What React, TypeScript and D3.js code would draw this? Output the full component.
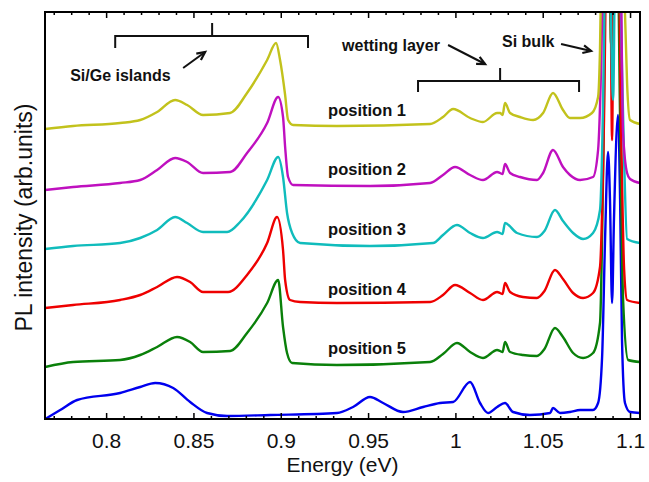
import { useEffect, useRef } from "react";
import * as d3 from "d3";

// energy (eV) / PL intensity (arb. units, curves already stacked)
const position1 = [
  [0.7651, 2.9], [0.7811, 2.93], [0.808, 2.96], [0.8195, 2.99], [0.8292, 3.07],
  [0.8395, 3.19], [0.8464, 3.14], [0.8555, 3.04], [0.871, 3.06], [0.8807, 3.26],
  [0.8922, 3.59], [0.8973, 3.76], [0.8996, 3.59], [0.9025, 3.24], [0.9042, 2.99],
  [0.9071, 2.94], [0.9322, 2.93], [0.9855, 2.95], [0.9929, 3.02], [0.9987, 3.1],
  [1.0084, 3.01], [1.0158, 2.97], [1.0239, 3.06], [1.0256, 3.06], [1.027, 3.04],
  [1.0284, 3.16], [1.0313, 3.06], [1.037, 3.02], [1.0445, 2.99], [1.0502, 3.06],
  [1.0559, 3.26], [1.0616, 3.09], [1.0656, 3.01], [1.0714, 3.01], [1.0782, 3.06],
  [1.0817, 3.22], [1.0828, 3.7], [1.084, 5.0], [1.0874, 6.0], [1.0903, 4.4],
  [1.0931, 6.0], [1.096, 5.0], [1.0971, 4.06], [1.0983, 3.36], [1.1, 2.99],
  [1.1057, 2.95],
];

const position2 = [
  [0.7651, 2.29], [0.7811, 2.32], [0.808, 2.36], [0.8195, 2.39], [0.8292, 2.49],
  [0.8395, 2.61], [0.8464, 2.57], [0.8555, 2.46], [0.871, 2.47], [0.8807, 2.66],
  [0.8922, 2.96], [0.8985, 3.22], [0.9013, 3.02], [0.9025, 2.72], [0.9042, 2.42],
  [0.9071, 2.34], [0.9511, 2.33], [0.9855, 2.36], [0.9929, 2.44], [0.9998, 2.52],
  [1.0084, 2.44], [1.0158, 2.39], [1.0239, 2.47], [1.0256, 2.46], [1.027, 2.45],
  [1.0284, 2.55], [1.0313, 2.46], [1.037, 2.42], [1.0467, 2.39], [1.0502, 2.46],
  [1.0559, 2.69], [1.0616, 2.52], [1.0656, 2.44], [1.0714, 2.39], [1.0788, 2.42],
  [1.0817, 2.69], [1.0834, 3.5], [1.0851, 5.0], [1.0897, 6.0], [1.0943, 5.0],
  [1.096, 2.86], [1.0983, 2.46], [1.1, 2.4], [1.1057, 2.36],
];

const position3 = [
  [0.7651, 1.7], [0.7811, 1.73], [0.808, 1.76], [0.8195, 1.81], [0.8292, 1.89],
  [0.8395, 2.02], [0.8464, 1.96], [0.8555, 1.87], [0.8693, 1.87], [0.8767, 1.97],
  [0.8922, 2.39], [0.8985, 2.62], [0.9013, 2.42], [0.9036, 2.06], [0.9065, 1.86],
  [0.9111, 1.76], [0.9511, 1.73], [0.9872, 1.76], [0.9929, 1.84], [1.0009, 1.94],
  [1.0084, 1.86], [1.0158, 1.81], [1.0239, 1.87], [1.0256, 1.86], [1.027, 1.85],
  [1.0284, 1.96], [1.0353, 1.86], [1.0467, 1.82], [1.051, 1.88], [1.057, 2.09],
  [1.0616, 1.98], [1.0674, 1.86], [1.0731, 1.8], [1.0788, 1.86], [1.0828, 2.09],
  [1.0846, 3.2], [1.0857, 4.5], [1.0874, 5.5], [1.0903, 3.19], [1.092, 5.5],
  [1.0943, 4.5], [1.0954, 3.5], [1.0966, 2.6], [1.0983, 1.8], [1.1057, 1.76],
];

const position4 = [
  [0.7651, 1.11], [0.7811, 1.14], [0.808, 1.19], [0.8195, 1.24], [0.8292, 1.32],
  [0.8406, 1.42], [0.8481, 1.37], [0.8555, 1.27], [0.8698, 1.27], [0.8807, 1.44],
  [0.8922, 1.76], [0.8979, 2.02], [0.9013, 1.69], [0.9025, 1.39], [0.9053, 1.19],
  [0.9111, 1.17], [0.9322, 1.16], [0.9855, 1.17], [0.9929, 1.24], [0.9998, 1.34],
  [1.0084, 1.26], [1.0158, 1.19], [1.0239, 1.27], [1.0256, 1.26], [1.027, 1.25],
  [1.0284, 1.36], [1.0313, 1.27], [1.0387, 1.22], [1.0467, 1.21], [1.051, 1.28],
  [1.057, 1.49], [1.0616, 1.4], [1.0674, 1.26], [1.0731, 1.21], [1.0788, 1.26],
  [1.0828, 1.52], [1.0851, 3.0], [1.0868, 5.0], [1.0885, 5.0], [1.0897, 2.79],
  [1.0908, 5.0], [1.0931, 5.0], [1.0948, 3.0], [1.0966, 1.5], [1.0983, 1.19],
  [1.1057, 1.16],
];

const position5 = [
  [0.7651, 0.52], [0.7811, 0.57], [0.808, 0.59], [0.8195, 0.64], [0.8292, 0.72],
  [0.8406, 0.82], [0.8481, 0.77], [0.8555, 0.67], [0.871, 0.68], [0.8807, 0.86],
  [0.8922, 1.16], [0.8985, 1.39], [0.9013, 0.92], [0.9036, 0.66], [0.9065, 0.56],
  [0.9322, 0.54], [0.9855, 0.57], [0.9929, 0.65], [1.0009, 0.76], [1.0084, 0.67],
  [1.0158, 0.61], [1.0239, 0.69], [1.0256, 0.68], [1.027, 0.67], [1.0284, 0.77],
  [1.0313, 0.67], [1.0387, 0.64], [1.0467, 0.63], [1.051, 0.7], [1.057, 0.91],
  [1.0616, 0.82], [1.0674, 0.66], [1.0731, 0.61], [1.0788, 0.66], [1.0828, 0.96],
  [1.0846, 2.5], [1.0863, 5.0], [1.088, 5.0], [1.0891, 3.75], [1.0903, 5.0],
  [1.0926, 5.0], [1.0943, 3.0], [1.096, 1.2], [1.0989, 0.59], [1.1057, 0.57],
];

const reference = [
  [0.7651, 0.0], [0.7737, 0.09], [0.7834, 0.19], [0.808, 0.26], [0.8195, 0.32],
  [0.8281, 0.36], [0.8384, 0.31], [0.8481, 0.17], [0.8578, 0.06], [0.8693, 0.03],
  [0.8939, 0.04], [0.9322, 0.06], [0.9414, 0.12], [0.9511, 0.22], [0.9586, 0.16],
  [0.97, 0.07], [0.9815, 0.12], [0.9912, 0.16], [0.9987, 0.17], [1.0084, 0.37],
  [1.0141, 0.16], [1.0187, 0.06], [1.0239, 0.12], [1.0284, 0.16], [1.033, 0.07],
  [1.0427, 0.04], [1.0542, 0.06], [1.0559, 0.11], [1.0599, 0.06], [1.0656, 0.07],
  [1.0714, 0.09], [1.0788, 0.09], [1.0817, 0.16], [1.084, 0.62], [1.0857, 1.8],
  [1.0874, 2.67], [1.0885, 2.2], [1.0897, 1.16], [1.0908, 2.0], [1.0931, 3.04],
  [1.0943, 2.2], [1.0954, 0.79], [1.0971, 0.16], [1.1, 0.07], [1.1057, 0.06],
];

// plotted in MATLAB's order: blue first, yellow last (on top)
const seriesData = [reference, position5, position4, position3, position2, position1];
const seriesColors = ["#0000ee", "#0a800a", "#ee0000", "#10bcbc", "#bf10bf", "#c2c21c"];

const positionLabels = ["position 1", "position 2", "position 3", "position 4", "position 5"];
const positionLabelY = [3.03, 2.44, 1.84, 1.24, 0.65];

const majorTicks = [0.8, 0.85, 0.9, 0.95, 1, 1.05, 1.1];
const majorLabels = ["0.8", "0.85", "0.9", "0.95", "1", "1.05", "1.1"];

export default function App() {
  const ref = useRef<SVGSVGElement>(null);

  useEffect(() => {
    document.body.style.margin = "0";
    const el = ref.current;
    if (!el) return;
    const svg = d3.select(el);
    svg.selectAll("*").remove();

    const left = 45, right = 640, top = 12, bottom = 419;
    const x = d3.scaleLinear().domain([0.765, 1.1057]).range([left, right]);
    const y = d3.scaleLinear().domain([0, 4.07]).range([bottom, top]);
    const font = "'Liberation Sans', Arial, sans-serif";

    svg.append("defs")
      .append("clipPath")
      .attr("id", "plot-clip")
      .append("rect")
      .attr("x", left)
      .attr("y", top)
      .attr("width", right - left)
      .attr("height", bottom - top);

    const line = d3
      .line<number[]>()
      .x((d) => x(d[0]))
      .y((d) => y(d[1]))
      .curve(d3.curveMonotoneX);

    svg.append("g")
      .attr("clip-path", "url(#plot-clip)")
      .selectAll("path")
      .data(seriesData)
      .join("path")
      .attr("d", (d) => line(d))
      .attr("fill", "none")
      .attr("stroke", (_, i) => seriesColors[i])
      .attr("stroke-width", 2.4)
      .attr("stroke-linejoin", "round");

    // ticks (inward), bottom + top
    const minor = d3.range(77, 111).map((v) => v / 100).filter((v) => Math.round(v * 100) % 5 !== 0);
    const styleAxis = (g: any) => {
      g.select(".domain").remove();
      g.selectAll("line").attr("stroke", "#000").attr("stroke-width", 1.5);
    };
    svg.append("g")
      .attr("transform", `translate(0,${bottom})`)
      .call(d3.axisBottom(x).tickValues(minor).tickSize(-3).tickFormat(() => ""))
      .call(styleAxis);
    svg.append("g")
      .attr("transform", `translate(0,${bottom})`)
      .call(
        d3.axisBottom(x)
          .tickValues(majorTicks)
          .tickSize(-6)
          .tickPadding(14)
          .tickFormat((_, i) => majorLabels[i])
      )
      .call(styleAxis)
      .call((g) =>
        g.selectAll("text")
          .attr("font-size", 21)
          .attr("font-family", font)
          .attr("fill", "#111")
      );
    svg.append("g")
      .attr("transform", `translate(0,${top})`)
      .call(d3.axisTop(x).tickValues(minor).tickSize(-3).tickFormat(() => ""))
      .call(styleAxis);
    svg.append("g")
      .attr("transform", `translate(0,${top})`)
      .call(d3.axisTop(x).tickValues(majorTicks).tickSize(-6).tickFormat(() => ""))
      .call(styleAxis);

    svg.append("rect")
      .attr("x", left)
      .attr("y", top)
      .attr("width", right - left)
      .attr("height", bottom - top)
      .attr("fill", "none")
      .attr("stroke", "#000")
      .attr("stroke-width", 2);

    svg.append("text")
      .attr("x", (left + right) / 2)
      .attr("y", 472)
      .attr("text-anchor", "middle")
      .attr("font-size", 21)
      .attr("font-family", font)
      .attr("fill", "#111")
      .text("Energy (eV)");

    svg.append("text")
      .attr("transform", `translate(32,${(top + bottom) / 2 + 2}) rotate(-90)`)
      .attr("text-anchor", "middle")
      .attr("font-size", 23)
      .attr("font-family", font)
      .attr("fill", "#111")
      .text("PL intensity (arb.units)");

    // annotations
    const ann = svg.append("g")
      .attr("font-family", font)
      .attr("font-weight", "bold")
      .attr("font-size", 16)
      .attr("fill", "#111");

    positionLabels.forEach((t, i) => {
      ann.append("text")
        .attr("x", x(0.9271))
        .attr("y", y(positionLabelY[i]))
        .attr("font-size", 16.5)
        .text(t);
    });
    ann.append("text").attr("x", x(0.7794)).attr("y", y(3.38)).text("Si/Ge islands");
    ann.append("text").attr("x", x(0.9351)).attr("y", y(3.68)).text("wetting layer");
    ann.append("text").attr("x", x(1.0267)).attr("y", y(3.72)).text("Si bulk");

    const bracket = (x0: number, x1: number, xm: number, yb: number, yEnd: number, yTop: number) => {
      const p = d3.path();
      p.moveTo(x(x0), y(yEnd));
      p.lineTo(x(x0), y(yb));
      p.lineTo(x(x1), y(yb));
      p.lineTo(x(x1), y(yEnd));
      p.moveTo(x(xm), y(yb));
      p.lineTo(x(xm), y(yTop));
      svg.append("path")
        .attr("d", p.toString())
        .attr("fill", "none")
        .attr("stroke", "#111")
        .attr("stroke-width", 2);
    };
    bracket(0.8052, 0.9156, 0.8607, 3.83, 3.71, 3.96);
    bracket(0.9786, 1.0708, 1.0256, 3.38, 3.27, 3.51);

    const arrow = (ex0: number, iy0: number, ex1: number, iy1: number) => {
      const x0 = x(ex0), y0 = y(iy0), x1 = x(ex1), y1 = y(iy1);
      const a = Math.atan2(y1 - y0, x1 - x0);
      const h = 9, w = 0.45;
      svg.append("line")
        .attr("x1", x0).attr("y1", y0).attr("x2", x1).attr("y2", y1)
        .attr("stroke", "#111").attr("stroke-width", 2);
      svg.append("path")
        .attr(
          "d",
          `M${x1 - h * Math.cos(a - w)},${y1 - h * Math.sin(a - w)}L${x1},${y1}L${x1 - h * Math.cos(a + w)},${y1 - h * Math.sin(a + w)}`
        )
        .attr("fill", "none")
        .attr("stroke", "#111")
        .attr("stroke-width", 2.2);
    };
    arrow(0.8441, 3.51, 0.8567, 3.67);
    arrow(0.9958, 3.74, 1.017, 3.55);
    arrow(1.0605, 3.75, 1.0777, 3.68);
  }, []);

  return <svg ref={ref} width={649} height={482} style={{ display: "block", background: "#fff" }} />;
}
